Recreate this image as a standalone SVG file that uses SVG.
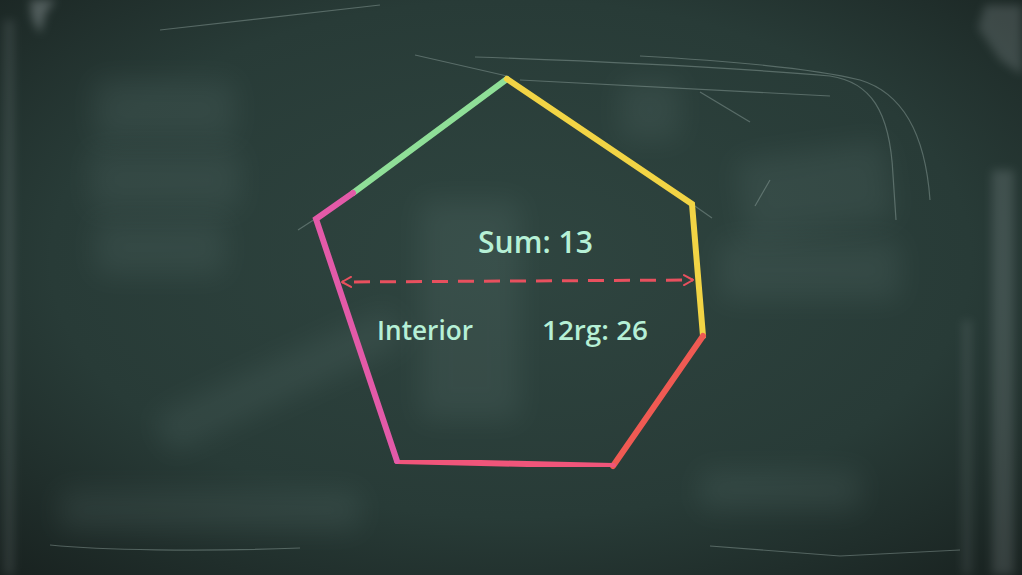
<svg xmlns="http://www.w3.org/2000/svg" width="1022" height="575" viewBox="0 0 1022 575">
  <defs>
    <radialGradient id="bg" cx="0.5" cy="0.45" r="0.75">
      <stop offset="0" stop-color="#2f4540"/>
      <stop offset="0.6" stop-color="#283b37"/>
      <stop offset="1" stop-color="#18211f"/>
    </radialGradient>
    <filter id="blur8" x="-50%" y="-50%" width="200%" height="200%"><feGaussianBlur stdDeviation="14"/></filter>
    <filter id="blur3" x="-100%" y="-20%" width="300%" height="140%"><feGaussianBlur stdDeviation="5"/></filter>
    <filter id="soft" x="-5%" y="-5%" width="110%" height="110%"><feGaussianBlur stdDeviation="0.5"/></filter>
    <marker id="chev" viewBox="0 0 12 12" refX="10" refY="6" markerWidth="12" markerHeight="12" markerUnits="userSpaceOnUse" orient="auto-start-reverse">
      <path d="M1,1 L10,6 L1,11" fill="none" stroke="#e8505e" stroke-width="2" stroke-linecap="round" stroke-linejoin="round"/>
    </marker>
    <style>
      .edge{fill:none;stroke-width:6;stroke-linecap:round;filter:url(#soft)}
      .lbl{font-family:"Open Sans","Liberation Sans",sans-serif;fill:#b6f0d6;font-weight:600}
      .scratch{fill:none;stroke:#9fb4b0;stroke-width:1.2;opacity:0.4}
      .smudge{fill:#7f9a96;opacity:0.13;filter:url(#blur8)}
      .rim{fill:#c9d2d6;filter:url(#blur3)}
    </style>
  </defs>

  <!-- board -->
  <rect width="1022" height="575" fill="url(#bg)"/>
  <g id="smudges">
    <rect class="smudge" x="95" y="80" width="140" height="60"/>
    <rect class="smudge" x="90" y="150" width="150" height="60"/>
    <rect class="smudge" x="95" y="220" width="130" height="55"/>
    <rect class="smudge" x="740" y="150" width="150" height="80" transform="rotate(-8 815 190)"/>
    <rect class="smudge" x="720" y="240" width="180" height="60"/>
    <rect class="smudge" x="150" y="360" width="260" height="40" transform="rotate(-25 280 380)"/>
    <rect class="smudge" x="700" y="470" width="160" height="40"/>
    <rect class="smudge" x="420" y="200" width="100" height="220"/>
    <rect class="smudge" x="60" y="490" width="300" height="40"/>
    <rect class="smudge" x="620" y="80" width="60" height="60"/>
  </g>
  <g id="rims">
    <rect class="rim" x="4" y="20" width="10" height="555" opacity="0.12"/>
    <path class="rim" d="M30,0 L56,0 L46,12 L40,34 L32,18 Z" opacity="0.3"/>
    <path class="rim" d="M985,5 L1022,5 L1022,75 L1000,60 L978,28 Z" opacity="0.18"/>
    <rect class="rim" x="992" y="170" width="22" height="405" opacity="0.16"/>
    <rect class="rim" x="962" y="320" width="10" height="255" opacity="0.1"/>
  </g>
  <g id="scratches">
    <path class="scratch" d="M415,55 L507,76"/>
    <path class="scratch" d="M475,57 C620,62 760,70 830,76 C870,82 890,110 893,175 L896,220"/>
    <path class="scratch" d="M640,56 C750,62 820,70 860,80 C900,92 925,130 930,200"/>
    <path class="scratch" d="M520,80 L830,96"/>
    <path class="scratch" d="M700,92 L750,122"/>
    <path class="scratch" d="M770,180 L755,206"/>
    <path class="scratch" d="M692,204 L712,218"/>
    <path class="scratch" d="M315,219 L298,230"/>
    <path class="scratch" d="M160,30 C250,20 330,10 380,5" opacity="0.25"/>
    <path class="scratch" d="M710,546 L840,556 L960,550" opacity="0.25"/>
    <path class="scratch" d="M50,545 C100,550 200,552 300,548" opacity="0.25"/>
  </g>

  <!-- pentagon -->
  <g id="pentagon">
    <path class="edge" d="M353,193 L507,79" stroke="#8fdf98"/>
    <path class="edge" d="M507,79 L692,204 L703,336" stroke="#f2d444"/>
    <path class="edge" d="M703,336 L613,466" stroke="#ef5a52"/>
    <path class="edge" d="M613,466 L397,461" stroke="#f0547a"/>
    <path class="edge" d="M397,461 L316,219 L353,193" stroke="#e35aa8"/>
  </g>

  <g id="connectors">
    <path d="M342,282 L693,280" fill="none" stroke="#e8505e" stroke-width="3" stroke-dasharray="16 10" stroke-dashoffset="-12" marker-start="url(#chev)" marker-end="url(#chev)"/>
  </g>

  <g id="labels">
    <text class="lbl" x="478" y="253" font-size="30" textLength="115" lengthAdjust="spacingAndGlyphs">Sum: 13</text>
    <text class="lbl" x="377" y="340" font-size="27" textLength="96" lengthAdjust="spacingAndGlyphs">Interior</text>
    <text class="lbl" x="542" y="340" font-size="27" textLength="106" lengthAdjust="spacingAndGlyphs">12rg: 26</text>
  </g>
</svg>
